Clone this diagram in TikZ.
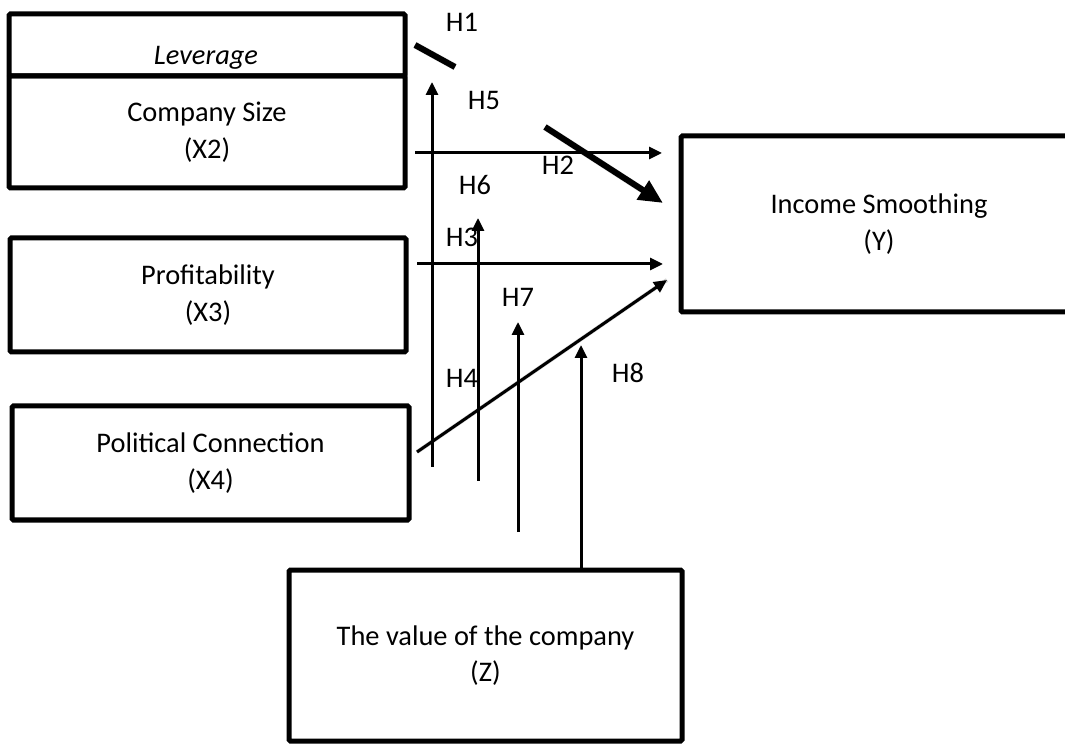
\documentclass[tikz,border=0pt]{standalone}
\usepackage{fontspec}
\setmainfont{Carlito}
\usetikzlibrary{arrows.meta}
\newcommand\myboxfont{\fontsize{21.3}{27.4}\selectfont}
\begin{document}
\begin{tikzpicture}[x=0.75pt,y=-0.75pt,
  box/.style={draw, line width=3.75pt, rectangle, outer sep=0pt, inner sep=0pt,
              align=center, font=\myboxfont, rounded corners=1pt},
  lbl/.style={font=\myboxfont, inner sep=0pt},
  arr/.style={line width=2.25pt, -{Triangle[length=9.75pt,width=9pt]}},
  ln/.style={line width=2.25pt},
  bigarr/.style={line width=4.5pt, -{Triangle[length=18pt,width=16pt]}},
  bigln/.style={line width=4.5pt},
  shadowln/.style={draw=black!35, opacity=0.5, line width=5pt, shift={(3,3)}}
]
\useasboundingbox (0,0) rectangle (1065,745);
\clip (0,0) rectangle (1065,745);
\fill[white] (0,0) rectangle (1065,745);

% boxes
\node[box, minimum width=297pt, minimum height=46.5pt] (lev) at (207,45) {};
\node[lbl] (levtext) at (206,58) {\textit{Leverage}};
\node[box, minimum width=297pt, minimum height=84pt] (size) at (207,132) {Company Size\\(X2)};
\node[box, minimum width=297pt, minimum height=85.5pt] (prof) at (208,295) {Profitability\\(X3)};
\node[box, minimum width=297.75pt, minimum height=85.5pt] (pol) at (210.5,463) {Political Connection\\(X4)};
\node[box, minimum width=297pt, minimum height=132pt] (inc) at (879,224) {Income Smoothing\\(Y)};
\node[box, minimum width=294.75pt, minimum height=128.25pt] (z) at (485.5,655.5) {The value of the company\\(Z)};

% connector end points
\coordinate (h5s) at (432,467); \coordinate (h5e) at (432,82);
\coordinate (h6s) at (478,481); \coordinate (h6e) at (478,218);
\coordinate (h7s) at (518,532); \coordinate (h7e) at (518,322);
\coordinate (h8e) at (581,345);
\coordinate (h2s) at (415,153); \coordinate (h2e) at (662,153);
\coordinate (h3s) at (417,264); \coordinate (h3e) at (663,264);
\coordinate (h4s) at (417,452); \coordinate (h4e) at (667,280);
\coordinate (h2ds) at (545,127); \coordinate (h2de) at (655,198);
\coordinate (h1s) at (415,45); \coordinate (h1e) at (455,67);

% shadows
\draw[shadowln] (h1s) -- (h1e);
\draw[shadowln] (h2ds) -- (h2de);
\draw[shadowln, line width=3pt] (h4s) -- (h4e);

% connectors
\draw[bigln] (h1s) -- (h1e);
\draw[arr] (h5s) -- (h5e);
\draw[arr] (h2s) -- (h2e);
\draw[bigarr] (h2ds) -- (663,203);
\draw[arr] (h6s) -- (h6e);
\draw[arr] (h3s) -- (h3e);
\draw[arr] (h7s) -- (h7e);
\draw[arr] (h8e |- z.north) -- (h8e);
\draw[arr] (h4s) -- (h4e);

% labels
\node[lbl] (lh1) at (462,22) {H1};
\node[lbl] (lh5) at (484,100) {H5};
\node[lbl] (lh2) at (558,165) {H2};
\node[lbl] (lh6) at (475,185) {H6};
\node[lbl] (lh3) at (462,237) {H3};
\node[lbl] (lh7) at (518,297) {H7};
\node[lbl] (lh4) at (462,378) {H4};
\node[lbl] (lh8) at (628,373) {H8};
\end{tikzpicture}
\end{document}
